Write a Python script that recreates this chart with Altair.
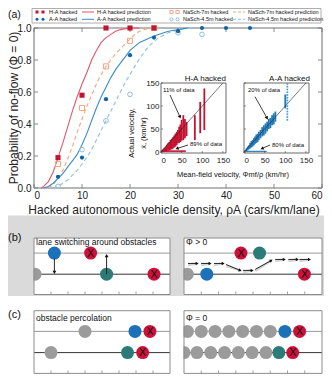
import math
import altair as alt
import pandas as pd

FONT = "Liberation Sans"
W, H = 316, 366

# ---------------- panel (a): simulation points ----------------
rho_ha = [5, 10, 15, 20, 25]
p_ha = [0.19, 0.58, 1.0, 1.0, 1.0]
rho_n7 = [5, 10, 15, 20, 25]
p_n7 = [0.15, 0.50, 0.76, 0.92, 1.0]
rho_aa = [5, 10, 15, 20, 25, 30, 35, 40, 45]
p_aa = [0.07, 0.19, 0.555, 0.83, 0.94, 0.98, 1.0, 1.0, 1.0]
rho_n45 = [5, 10, 15, 20, 30, 35]
p_n45 = [0.01, 0.24, 0.42, 0.585, 0.97, 0.96]

# ---------------- panel (a): predictions ----------------
pred_ha_x = [1.5, 2, 3, 4, 5, 6, 7, 8, 9, 10, 11, 12, 13, 14, 15, 16, 17, 18, 20, 22]
pred_ha_y = [0, 0.01, 0.04, 0.10, 0.19, 0.28, 0.38, 0.48, 0.57, 0.65, 0.72, 0.80, 0.86, 0.91, 0.94, 0.96, 0.98, 0.99, 1.0, 1.0]
pred_n7_x = [3, 4, 5, 6, 7, 8, 9, 10, 11, 12, 13, 14, 15, 16, 17, 18, 19, 20, 21, 22, 24]
pred_n7_y = [0, 0.02, 0.06, 0.11, 0.18, 0.26, 0.35, 0.43, 0.51, 0.58, 0.65, 0.71, 0.76, 0.80, 0.84, 0.87, 0.90, 0.93, 0.96, 0.98, 1.0]
pred_aa_x = [2, 3, 4, 5, 6, 7, 8, 9, 10, 11, 12, 13, 14, 15, 16, 17, 18, 19, 20, 22, 25, 28, 32]
pred_aa_y = [0, 0.01, 0.03, 0.06, 0.09, 0.13, 0.17, 0.21, 0.27, 0.34, 0.42, 0.50, 0.57, 0.63, 0.69, 0.74, 0.78, 0.82, 0.86, 0.91, 0.95, 0.98, 1.0]
pred_n45_x = [4, 5, 6, 7, 8, 9, 10, 11, 12, 13, 14, 15, 16, 17, 18, 19, 20, 21, 22, 24, 26, 28, 30, 33]
pred_n45_y = [0, 0.01, 0.03, 0.05, 0.08, 0.11, 0.15, 0.19, 0.24, 0.30, 0.36, 0.42, 0.48, 0.54, 0.60, 0.66, 0.71, 0.76, 0.81, 0.89, 0.94, 0.97, 0.99, 1.0]

x_ticks = [0, 10, 20, 30, 40, 50, 60]
y_ticks = [0.0, 0.2, 0.4, 0.6, 0.8, 1.0]

# ---------------- insets: actual vs mean-field velocity streaks ----------------
ha_x = [2, 5, 8, 11, 14, 17, 20, 23, 26, 29, 32, 35, 38, 41, 44, 47, 50, 54, 58, 62, 82, 95, 105]
ha_lo = [0, 0, 0, 1, 2, 3, 4, 5, 6, 8, 10, 12, 15, 19, 20, 22, 25, 26, 30, 35, 26, 41, 48]
ha_hi = [3, 6, 9, 12, 16, 19, 22, 26, 29, 32, 36, 40, 44, 48, 55, 60, 70, 80, 72, 65, 80, 109, 138]
ha_base_x = [0, 60]
ha_base_y = [0, 4]

aa_x = [3, 6, 9, 12, 15, 18, 21, 24, 27, 30, 33, 36, 40, 44, 48, 52, 56, 60, 64, 68, 72, 76, 100]
aa_lo = [0, 2, 4, 6, 8, 10, 12, 15, 18, 20, 22, 26, 30, 34, 36, 40, 45, 50, 52, 58, 60, 66, 95]
aa_hi = [4, 8, 12, 15, 20, 24, 26, 30, 34, 38, 40, 44, 48, 54, 58, 62, 66, 72, 74, 80, 84, 88, 125]
aa_dot_x = [105, 105, 105, 105, 105, 105, 105, 105, 105, 105, 105, 105, 105, 105]
aa_dot_y = [70, 76, 82, 88, 94, 100, 106, 112, 118, 124, 130, 136, 142, 148]
aa_base_x = [0, 55]
aa_base_y = [0, 3]
inset_ticks = [0, 50, 100, 150]

# ---------------- panels (b), (c): cars on two lanes ----------------
kinds = ["gray", "blue", "teal", "red"]
kind_colors = ["#9b9b9b", "#1b72b8", "#2b7b78", "#d0103a"]

b_left_u = [1.2, 3.33, 0.06, 4.27, 7.06]
b_left_lane = [1, 1, 0, 0, 0]
b_left_kind = ["blue", "red", "gray", "teal", "red"]

b_right_u = [3.3, 4.38, 0.19, 1.32, 6.98]
b_right_lane = [1, 1, 0, 0, 0]
b_right_kind = ["red", "teal", "gray", "blue", "red"]

c_left_u = [3.0, 5.94, 6.82, 1.0, 5.5, 6.39]
c_left_lane = [1, 1, 1, 0, 0, 0]
c_left_kind = ["gray", "blue", "red", "gray", "teal", "red"]

c_right_u = [0.2, 1.0, 1.8, 2.6, 3.4, 4.2, 5.0, 5.85, 6.7,
             0.0, 0.75, 1.55, 2.35, 3.15, 3.95, 4.75, 5.5, 6.3]
c_right_lane = [1] * 9 + [0] * 9
c_right_kind = ["gray"] * 7 + ["blue", "red"] + ["gray"] * 7 + ["teal", "red"]

# lane-change arrows in (b) left: (u, from lane pos, to lane pos)
b_arrow_u = [1.2, 4.27]
b_arrow_from = [0.74, 0.0]
b_arrow_to = [0.09, 0.88]

# flow path arrows in (b) right
flow_x0 = [0.23, 0.99, 1.74, 2.44, 3.43, 4.13, 5.29, 6.05, 6.69]
flow_y0 = [0.51, 0.51, 0.51, 0.46, 0.18, 0.23, 0.70, 0.70, 0.70]
flow_x1 = [0.76, 1.51, 2.27, 3.26, 3.95, 5.06, 5.81, 6.57, 7.27]
flow_y1 = [0.51, 0.51, 0.51, 0.18, 0.18, 0.65, 0.70, 0.70, 0.70]
box_ticks = [1, 2, 3, 4, 5, 6, 7]

# ---------------- colours ----------------
RED_PT = "#c41230"
RED_LN = "#e4566a"
ORANGE = "#f4a582"
BLUE_PT = "#0b65a8"
BLUE_LN = "#3c8dc8"
LBLUE = "#8cc2e2"
FRAME = "#6e6e6e"
BG_B = "#dadada"

one = pd.DataFrame({"d": [0]})

XM = alt.Scale(domain=[0, 60], range=[26, 314], nice=False, zero=False)
YM = alt.Scale(domain=[0, 1], range=[180, 20], nice=False, zero=False)
XI_HA = alt.Scale(domain=[0, 157.5], range=[153, 218], nice=False, zero=False)
XI_AA = alt.Scale(domain=[0, 157.5], range=[236, 301], nice=False, zero=False)
YI = alt.Scale(domain=[-2, 150], range=[145, 75], nice=False, zero=False)
XB_L = alt.Scale(domain=[0, 8], range=[26, 162], nice=False, zero=False)
XB_R = alt.Scale(domain=[0, 8], range=[176, 314], nice=False, zero=False)
YB = alt.Scale(domain=[0, 1], range=[266.2, 245.1], nice=False, zero=False)
YC = alt.Scale(domain=[0, 1], range=[344.6, 323.4], nice=False, zero=False)

layers = []


def vtext(s, x, y, size=8, align="left", angle=0, color="#111", font=FONT, baseline="middle"):
    return alt.Chart(one).mark_text(text=s, align=align, baseline=baseline, fontSize=size,
                                    angle=angle, color=color, font=font).encode(
        x=alt.value(x), y=alt.value(y))


def vrule(x, y, x2, y2, color="#000", w=1.0, dash=None):
    kw = dict(color=color, strokeWidth=w)
    if dash:
        kw["strokeDash"] = dash
    return alt.Chart(one).mark_rule(**kw).encode(
        x=alt.value(x), y=alt.value(y), x2=alt.value(x2), y2=alt.value(y2))


def vrect(x, y, x2, y2, fill="white", stroke=None, w=1.0, fill_opacity=1.0):
    kw = dict(fill=fill, fillOpacity=fill_opacity, strokeWidth=w)
    if stroke:
        kw["stroke"] = stroke
    return alt.Chart(one).mark_rect(**kw).encode(
        x=alt.value(x), y=alt.value(y), x2=alt.value(x2), y2=alt.value(y2))


def vsym(x, y, shape, color, size, filled=True, angle=0):
    return alt.Chart(one).mark_point(shape=shape, filled=filled, size=size, color=color,
                                     opacity=1, strokeWidth=1, angle=angle).encode(
        x=alt.value(x), y=alt.value(y))


def varrow(x0, y0, x1, y1, color="#111", w=0.8, head=14):
    ang = math.degrees(math.atan2(y1 - y0, x1 - x0)) % 360
    return [vrule(x0, y0, x1, y1, color, w),
            vsym(x1, y1, "triangle-right", color, head, True, ang)]


def X(field, scale, axis=None):
    return alt.X(field, scale=scale, axis=axis)


def Y(field, scale, axis=None):
    return alt.Y(field, scale=scale, axis=axis)


# ---- background of panel (b)
layers.append(vrect(0, 207.5, 316, 288, fill=BG_B))

# ---- legend
layers.append(vrect(24, 0.5, 313, 15, fill="white", stroke="#9a9a9a", w=0.8))
LR1, LR2 = 4, 11.3
layers += [vsym(29, LR1, "square", RED_PT, 9), vsym(35, LR1, "square", RED_PT, 9),
           vsym(29, LR2, "circle", BLUE_PT, 9), vsym(35, LR2, "circle", BLUE_PT, 9),
           vtext("H-A hacked", 41, LR1, 5.5), vtext("A-A hacked", 41, LR2, 5.5),
           vrule(74, LR1, 86, LR1, RED_LN, 1), vrule(74, LR2, 86, LR2, BLUE_LN, 1),
           vtext("H-A hacked prediction", 89, LR1, 5.5), vtext("A-A hacked prediction", 89, LR2, 5.5),
           vsym(163.5, LR1, "square", ORANGE, 10, False), vsym(169.5, LR1, "square", ORANGE, 10, False),
           vsym(163.5, LR2, "circle", LBLUE, 10, False), vsym(169.5, LR2, "circle", LBLUE, 10, False),
           vtext("NaSch-7m hacked", 175, LR1, 5.5), vtext("NaSch-4.5m hacked", 175, LR2, 5.5),
           vrule(225, LR1, 237, LR1, ORANGE, 1, [3, 2]), vrule(225, LR2, 237, LR2, LBLUE, 1, [3, 2]),
           vtext("NaSch-7m hacked prediction", 240, LR1, 5.5),
           vtext("NaSch-4.5m hacked prediction", 240, LR2, 5.5)]

# ---- panel labels
layers += [vtext("(a)", 0, 7, 10.5), vtext("(b)", 0, 230, 11), vtext("(c)", 0, 307, 11)]

# ---- main frame with axis labels
frame_df = pd.DataFrame({"x0": [0], "x1": [60], "y0": [0], "y1": [1]})
layers.append(alt.Chart(frame_df).mark_rect(fillOpacity=0, stroke=FRAME, strokeWidth=1).encode(
    x=X("x0:Q", XM, alt.Axis(orient="bottom", offset=-(H - 180), values=x_ticks, format="d",
                             domain=False, ticks=False, tickSize=0, grid=False, labelFont=FONT,
                             labelFontSize=10, labelColor="#222", labelPadding=2, title=None,
                             labelOverlap=False)),
    x2="x1:Q",
    y=Y("y0:Q", YM, alt.Axis(orient="left", offset=-26, values=y_ticks, format=".1f",
                             domain=False, ticks=False, tickSize=0, grid=False, labelFont=FONT,
                             labelFontSize=10, labelColor="#222", labelPadding=3, title=None,
                             labelOverlap=False)),
    y2="y1:Q"))

# inward ticks on all four sides
xt_df = pd.DataFrame({"t": x_ticks})
yt_df = pd.DataFrame({"t": y_ticks})
for (ya, yb) in [(180, 176), (20, 24)]:
    layers.append(alt.Chart(xt_df).mark_rule(color=FRAME, strokeWidth=0.8).encode(
        x=X("t:Q", XM), y=alt.value(ya), y2=alt.value(yb)))
for (xa, xb) in [(26, 30), (314, 310)]:
    layers.append(alt.Chart(yt_df).mark_rule(color=FRAME, strokeWidth=0.8).encode(
        y=Y("t:Q", YM), x=alt.value(xa), x2=alt.value(xb)))

# titles of the main plot
layers.append(vtext("Hacked autonomous vehicle density, ρA (cars/km/lane)", 166, 202, 12, "center", color="#222"))
layers.append(vtext("Probability of no-flow (Φ = 0)", 6, 100, 12, "center", 270, color="#222"))

# prediction curves
for xs, ys, col, dash in [(pred_n45_x, pred_n45_y, LBLUE, [4, 3]),
                          (pred_n7_x, pred_n7_y, ORANGE, [4, 3]),
                          (pred_aa_x, pred_aa_y, BLUE_LN, None),
                          (pred_ha_x, pred_ha_y, RED_LN, None)]:
    kw = dict(color=col, strokeWidth=1.1)
    if dash:
        kw["strokeDash"] = dash
    df = pd.DataFrame({"x": xs, "y": ys})
    layers.append(alt.Chart(df).mark_line(**kw).encode(x=X("x:Q", XM), y=Y("y:Q", YM)))

# simulation points
for xs, ys, shape, col, filled, size in [(rho_n45, p_n45, "circle", LBLUE, False, 22),
                                         (rho_n7, p_n7, "square", ORANGE, False, 26),
                                         (rho_aa, p_aa, "circle", BLUE_PT, True, 18),
                                         (rho_ha, p_ha, "square", RED_PT, True, 26)]:
    df = pd.DataFrame({"x": xs, "y": ys})
    layers.append(alt.Chart(df).mark_point(shape=shape, filled=filled, size=size, color=col,
                                           opacity=1, strokeWidth=1).encode(
        x=X("x:Q", XM), y=Y("y:Q", YM)))

# ---- insets
def inset(xscale, sx, slo, shi, color, base_x, base_y, show_y_axis):
    out = []
    fr = pd.DataFrame({"x0": [0], "x1": [157.5], "y0": [-2], "y1": [150]})
    yax = None
    if show_y_axis:
        yax = alt.Axis(orient="left", offset=-xscale.range[0], values=inset_ticks, domain=False,
                       ticks=False, tickSize=0, grid=False, labelFont=FONT, labelFontSize=8,
                       labelColor="#222", labelPadding=2, title=None, labelOverlap=False)
    out.append(alt.Chart(fr).mark_rect(fill="white", stroke="#444", strokeWidth=0.8).encode(
        x=X("x0:Q", xscale, alt.Axis(orient="bottom", offset=-(H - 145), values=inset_ticks,
                                     domain=False, ticks=False, tickSize=0, grid=False,
                                     labelFont=FONT, labelFontSize=8, labelColor="#222",
                                     labelPadding=3, title=None, labelOverlap=False)),
        x2="x1:Q", y=Y("y0:Q", YI, yax), y2="y1:Q"))
    bdf = pd.DataFrame({"x0": [base_x[0]], "x1": [base_x[1]], "y0": [base_y[0]], "y1": [base_y[1]]})
    out.append(alt.Chart(bdf).mark_rect(color=color, opacity=0.9).encode(
        x=X("x0:Q", xscale), x2="x1:Q", y=Y("y0:Q", YI), y2="y1:Q"))
    sdf = pd.DataFrame({"x": sx, "lo": slo, "hi": shi})
    out.append(alt.Chart(sdf).mark_rule(color=color, strokeWidth=1.8).encode(
        x=X("x:Q", xscale), y=Y("lo:Q", YI), y2="hi:Q"))
    ddf = pd.DataFrame({"x": [0], "y": [0], "x1": [150], "y1": [150]})
    out.append(alt.Chart(ddf).mark_rule(color="#222", strokeWidth=0.6).encode(
        x=X("x:Q", xscale), y=Y("y:Q", YI), x2="x1:Q", y2="y1:Q"))
    tdf = pd.DataFrame({"t": inset_ticks})
    out.append(alt.Chart(tdf).mark_rule(color="#444", strokeWidth=0.6).encode(
        x=X("t:Q", xscale), y=alt.value(145), y2=alt.value(143)))
    out.append(alt.Chart(tdf).mark_rule(color="#444", strokeWidth=0.6).encode(
        y=Y("t:Q", YI), x=alt.value(xscale.range[0]), x2=alt.value(xscale.range[0] + 2)))
    return out


layers += inset(XI_HA, ha_x, ha_lo, ha_hi, RED_PT, ha_base_x, ha_base_y, True)
layers += inset(XI_AA, aa_x, aa_lo, aa_hi, "#1f78b8", aa_base_x, aa_base_y, False)
dot_df = pd.DataFrame({"x": aa_dot_x, "y": aa_dot_y})
layers.append(alt.Chart(dot_df).mark_point(shape="square", filled=True, size=3, color="#4a9ad4",
                                           opacity=1).encode(x=X("x:Q", XI_AA), y=Y("y:Q", YI)))

layers += [vtext("H-A hacked", 218, 71.3, 8, "right"), vtext("A-A hacked", 302, 71.3, 8, "right"),
           vtext("11% of data", 155, 82, 6), vtext("89% of data", 182, 135.5, 6),
           vtext("20% of data", 240, 82, 6), vtext("80% of data", 264, 137, 6),
           vtext("Mean-field velocity, Φmf/ρ (km/hr)", 225, 167, 7.5, "center"),
           vtext("Actual velocity,", 124, 125, 7.5, "center", 270),
           vtext("ẋ, (km/hr)", 136, 125, 7.5, "center", 270)]
layers += varrow(162, 87, 172, 109)
layers += varrow(180, 137, 169, 140.5)
layers += varrow(247, 88.7, 259, 110)
layers += varrow(262, 137, 254, 140.5)

# ---- panels (b) and (c)
color_kind = alt.Color("kind:N", scale=alt.Scale(domain=kinds, range=kind_colors), legend=None)


def lane_box(xscale, yscale, us, lanes, kinds_, top, bottom, lane_hi, lane_lo, panel_bg, cover):
    x0, x1 = xscale.range
    out = [vrect(x0, top, x1, bottom, fill="white"),
           vrule(x0, lane_hi, x1, lane_hi, "#9a9a9a", 1.0),
           vrule(x0, lane_lo, x1, lane_lo, "#333333", 1.0)]
    df = pd.DataFrame({"u": us, "lane": lanes, "kind": kinds_})
    out.append(alt.Chart(df).mark_circle(size=169, opacity=1).encode(
        x=X("u:Q", xscale), y=Y("lane:Q", yscale), color=color_kind))
    out.append(alt.Chart(df).transform_filter(alt.datum.kind == "red").mark_text(
        text="X", fontSize=11, font="DejaVu Sans", color="#111", baseline="middle", dy=0.5).encode(
        x=X("u:Q", xscale), y=Y("lane:Q", yscale)))
    if cover:
        out.append(vrect(x0 - 10, top + 1, x0 - 0.5, bottom, fill=panel_bg))
    out.append(vrect(x0, top, x1, bottom, fill="white", fill_opacity=0, stroke="#8c8c8c", w=1))
    tdf = pd.DataFrame({"t": box_ticks})
    out.append(alt.Chart(tdf).mark_rule(color="#8c8c8c", strokeWidth=0.8).encode(
        x=X("t:Q", xscale), y=alt.value(bottom), y2=alt.value(bottom - 3)))
    return out


layers += lane_box(XB_L, YB, b_left_u, b_left_lane, b_left_kind, 230, 286.5, 245.1, 266.2, BG_B, True)
layers += lane_box(XB_R, YB, b_right_u, b_right_lane, b_right_kind, 230, 286.5, 245.1, 266.2, BG_B, True)
layers += lane_box(XB_L, YC, c_left_u, c_left_lane, c_left_kind, 302.7, 365.4, 323.4, 344.6, "white", False)
layers += lane_box(XB_R, YC, c_right_u, c_right_lane, c_right_kind, 302.7, 365.4, 323.4, 344.6, "white", True)

# lane-change arrows (b, left)
adf = pd.DataFrame({"u": b_arrow_u, "y0": b_arrow_from, "y1": b_arrow_to,
                    "shape": ["triangle-down", "triangle-up"]})
layers.append(alt.Chart(adf).mark_rule(color="#111", strokeWidth=0.9).encode(
    x=X("u:Q", XB_L), y=Y("y0:Q", YB), y2="y1:Q"))
layers.append(alt.Chart(adf).mark_point(filled=True, size=14, color="#111", opacity=1).encode(
    x=X("u:Q", XB_L), y=Y("y1:Q", YB),
    shape=alt.Shape("shape:N", scale=None)))

# flow arrows (b, right)
sx = (XB_R.range[1] - XB_R.range[0]) / 8.0
sy = (YB.range[0] - YB.range[1]) / 1.0
fang = [math.degrees(math.atan2(-(b1 - b0) * sy, (a1 - a0) * sx)) % 360
        for a0, b0, a1, b1 in zip(flow_x0, flow_y0, flow_x1, flow_y1)]
fdf = pd.DataFrame({"x0": flow_x0, "y0": flow_y0, "x1": flow_x1, "y1": flow_y1, "ang": fang})
layers.append(alt.Chart(fdf).mark_rule(color="#555", strokeWidth=2.5, opacity=0.25).encode(
    x=X("x0:Q", XB_R), y=Y("y0:Q", YB), x2="x1:Q", y2="y1:Q", yOffset=alt.value(1.5)))
layers.append(alt.Chart(fdf).mark_rule(color="#111", strokeWidth=0.9).encode(
    x=X("x0:Q", XB_R), y=Y("y0:Q", YB), x2="x1:Q", y2="y1:Q"))
layers.append(alt.Chart(fdf).mark_point(shape="triangle-right", filled=True, size=12, color="#111",
                                        opacity=1).encode(
    x=X("x1:Q", XB_R), y=Y("y1:Q", YB), angle=alt.Angle("ang:Q", scale=None)))

layers += [vtext("lane switching around obstacles", 28, 234.4, 8.5),
           vtext("Φ > 0", 178, 234.4, 8.5),
           vtext("obstacle percolation", 28, 310.2, 8.5),
           vtext("Φ = 0", 178, 310.2, 8.5)]

chart = alt.layer(*layers).resolve_scale(
    x="independent", y="independent", color="independent", shape="independent", angle="independent"
).properties(
    width=W, height=H, padding=0, autosize=alt.AutoSizeParams(type="none")
).configure_view(strokeWidth=0)

chart.save("out.html", embed_options={"renderer": "svg", "actions": False})
